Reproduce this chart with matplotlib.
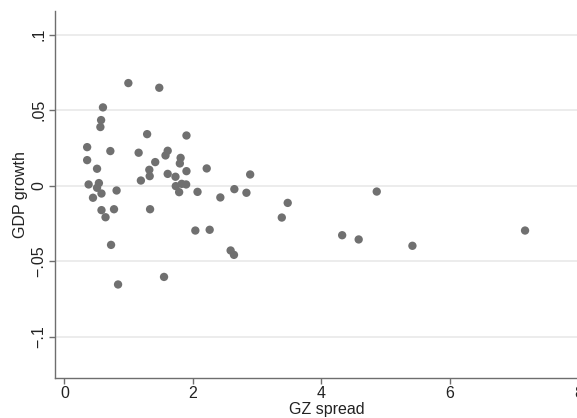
import matplotlib
matplotlib.use("Agg")
import matplotlib.pyplot as plt
from matplotlib.ticker import FixedLocator

gz_spread = [0.996, 1.477, 0.601, 0.572, 0.561, 1.288, 1.900, 0.355, 0.716, 1.608,
             1.574, 1.156, 1.809, 1.797, 0.355, 1.414, 2.215, 0.509, 1.322, 1.900,
             1.608, 2.891, 1.729, 1.328, 1.191, 0.378, 0.538, 0.509, 0.578, 0.813,
             0.446, 1.734, 1.826, 1.895, 1.786, 2.072, 2.645, 2.833, 2.427, 3.475,
             4.860, 0.578, 0.773, 1.334, 0.641, 3.383, 2.038, 2.261, 7.167, 4.322,
             4.579, 5.415, 0.727, 2.587, 2.639, 1.551, 0.836]
gdp_growth = [0.0680, 0.0649, 0.0519, 0.0435, 0.0389, 0.0342, 0.0333, 0.0256, 0.0230, 0.0232,
              0.0201, 0.0219, 0.0185, 0.0148, 0.0170, 0.0157, 0.0115, 0.0113, 0.0106, 0.0097,
              0.0079, 0.0075, 0.0060, 0.0064, 0.0035, 0.0009, 0.0018, -0.0013, -0.0051, -0.0031,
              -0.0079, -0.0002, 0.0013, 0.0009, -0.0042, -0.0040, -0.0022, -0.0046, -0.0077, -0.0113,
              -0.0038, -0.0161, -0.0155, -0.0155, -0.0208, -0.0210, -0.0296, -0.0291, -0.0296, -0.0327,
              -0.0355, -0.0397, -0.0391, -0.0428, -0.0457, -0.0603, -0.0653]

x_ticks = [0, 2, 4, 6, 8]
x_tick_labels = ["0", "2", "4", "6", "8"]
y_ticks = [-0.1, -0.05, 0, 0.05, 0.1]
y_tick_labels = ["\u2212.1", "\u2212.05", "0", ".05", ".1"]

plt.rcParams['font.family'] = ['Liberation Sans', 'DejaVu Sans']

fig = plt.figure(figsize=(5.77, 4.18), dpi=100)
ax = fig.add_axes([55/577, (418-377.7)/418, (578.6-55)/577, (377.7-11)/418])

for yt in y_ticks:
    ax.axhline(yt, color="#eaeaea", lw=1.3, zorder=0)

ax.scatter(gz_spread, gdp_growth, s=36, color="#707070", edgecolors="none", zorder=3)

ax.set_xlim(-0.145, 8.0)
ax.set_ylim(-0.127, 0.1157)

ax.xaxis.set_major_locator(FixedLocator(x_ticks))
ax.set_xticklabels(x_tick_labels)
ax.yaxis.set_major_locator(FixedLocator(y_ticks))
ax.set_yticklabels(y_tick_labels, rotation=90, va="center")

for s in ["top", "right"]:
    ax.spines[s].set_visible(False)
for s in ["left", "bottom"]:
    ax.spines[s].set_color("#6e6e6e")
    ax.spines[s].set_linewidth(1.0)

ax.tick_params(axis="both", colors="#6e6e6e", length=4, width=1.0, labelsize=11.5,
               labelcolor="#222222", pad=2)

ax.set_xlabel("GZ spread", fontsize=11.5, color="#222222", labelpad=0)
ax.xaxis.set_label_coords((327-55)/(578.6-55), -0.065)
ax.set_ylabel("GDP growth", fontsize=11.5, color="#222222", labelpad=3)

fig.savefig("out.png", dpi=100, facecolor="white")
